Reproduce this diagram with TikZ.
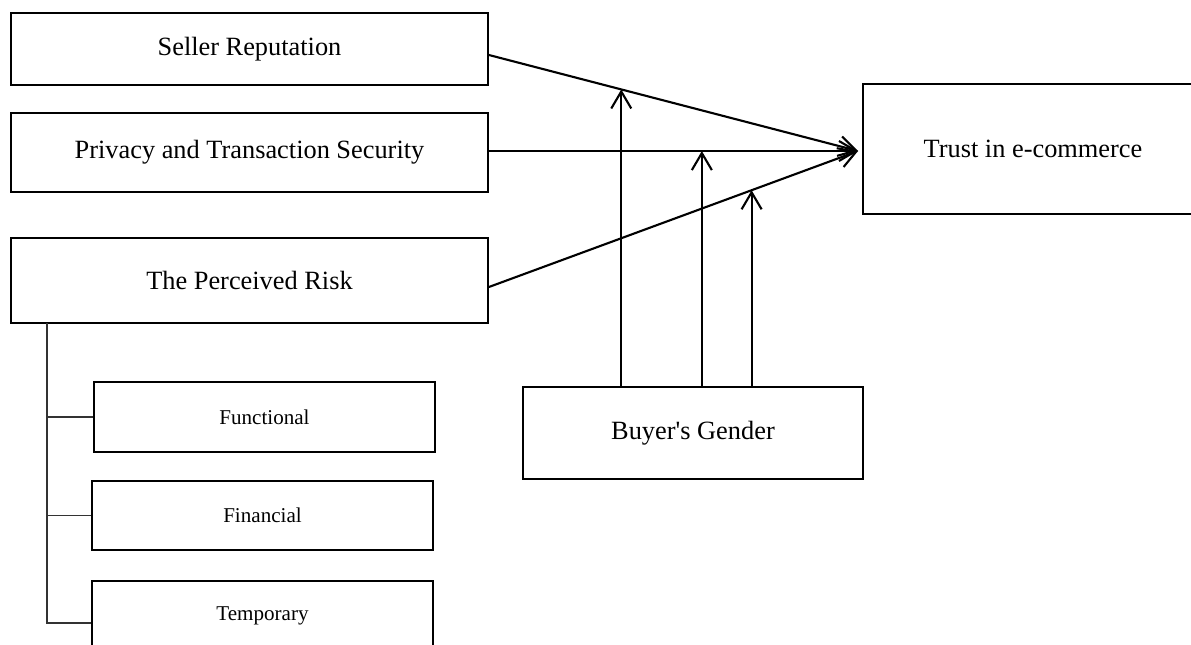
\documentclass[tikz,border=0pt]{standalone}
\usepackage{fontspec}
\setmainfont{Liberation Serif}
\usetikzlibrary{arrows.meta, calc}

\begin{document}
\begin{tikzpicture}[x=0.02cm, y=-0.02cm,
        box/.style = {draw, line width=1.1pt, minimum width=9.54cm, font=\fontsize{15}{18}\selectfont},
        subbox/.style = {draw, line width=1.1pt, minimum width=6.82cm, minimum height=1.4cm, font=\fontsize{12}{14}\selectfont},
        link/.style = {line width=1.2pt, -{Straight Barb[length=0.34cm, width=0.4cm, line width=1.2pt]}},
        branch/.style = {line width=0.6pt, black!80}]
        \useasboundingbox (0, 0) rectangle (1191, 645);
        \node[box, minimum height=1.44cm] (Seller) at (249.5, 49) {Seller Reputation};
        \node[box, minimum height=1.58cm] (Privacy) at (249.5, 152.5) {Privacy and Transaction Security};
        \node[box, minimum height=1.7cm] (Risk) at (249.5, 280.5) {The Perceived Risk};
        \node[subbox] (Functional) at (264.5, 417) {Functional};
        \node[subbox, minimum height=1.38cm] (Financial) at (262.5, 515.5) {Financial};
        \node[subbox] (Temporary) at (262.5, 616) {Temporary};
        \node[box, minimum width=6.8cm, minimum height=2.6cm] (Trust) at (1033, 149) {Trust in e-commerce};
        \node[box, minimum width=6.8cm, minimum height=1.84cm] (Gender) at (693, 433) {Buyer\textquotesingle s Gender};
        \coordinate (Tip) at ([xshift=-0.08cm, yshift=-0.04cm]Trust.west);
        \coordinate (Seller Out) at ([yshift=-0.12cm]Seller.east);
        \coordinate (Privacy Out) at (Privacy.east |- Tip);
        \coordinate (Risk Out) at ([yshift=-0.13cm]Risk.east);
        \draw[link] (Seller Out) -- (Tip);
        \draw[link] (Privacy Out) -- (Tip);
        \draw[link] (Risk Out) -- (Tip);
        \coordinate (Seller Mod) at ($(Seller Out)!0.3585!(Tip)$);
        \coordinate (Privacy Mod) at ($(Privacy Out)!0.5768!(Tip)$);
        \coordinate (Risk Mod) at ($(Risk Out)!0.7116!(Tip)$);
        \draw[link] (Seller Mod |- Gender.north) -- (Seller Mod);
        \draw[link] (Privacy Mod |- Gender.north) -- (Privacy Mod);
        \draw[link] (Risk Mod |- Gender.north) -- (Risk Mod);
        \coordinate (Risk Top) at (47, 323);
        \coordinate (Risk Bottom) at (47, 623);
        \draw[branch] (Risk Top) -- (Risk Bottom) -- (Risk Bottom -| Temporary.west);
        \draw[branch] (Functional.west -| Risk Top) -- (Functional.west);
        \draw[branch] (Financial.west -| Risk Top) -- (Financial.west);
    \end{tikzpicture}
\end{document}
